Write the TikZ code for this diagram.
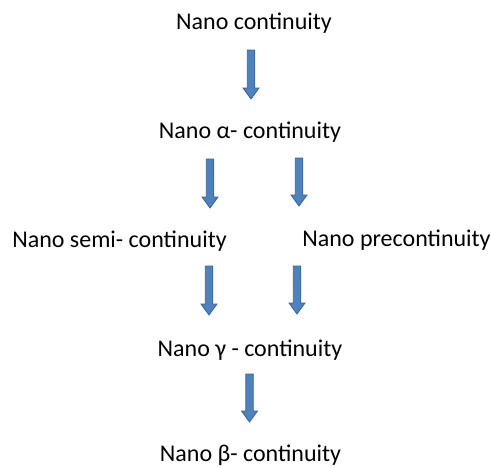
\documentclass[tikz,border=0pt]{standalone}
\usepackage{fontspec}
\setmainfont{Carlito}
\definecolor{arrfill}{HTML}{4F81BD}
\definecolor{arrline}{HTML}{3A6399}
\tikzset{
  lbl/.style={anchor=base, inner sep=0pt, font=\fontsize{24}{28}\selectfont, text=black},
  blockarr/.style={fill=arrfill, draw=arrline, line width=0.8pt, line join=miter}
}
\newcommand\blockarrow[2]{% #1 top coordinate name, #2 tip coordinate name
  \path (#1) coordinate (t) (#2) coordinate (b);
  \draw[blockarr] ($(t)+(-3.75,0)$) -- ($(b)+(-3.75,-11)$) -- ($(b)+(-8,-11)$) -- (b)
     -- ($(b)+(8,-11)$) -- ($(b)+(3.75,-11)$) -- ($(t)+(3.75,0)$) -- cycle;
}
\usetikzlibrary{calc}
\begin{document}
\begin{tikzpicture}[x=1pt,y=-1pt]
\useasboundingbox (0,0) rectangle (491,467);
\node[lbl] (c) at (254,29) {Nano continuity};
\node[lbl] (al) at (250,138) {Nano α- continuity};
\node[lbl] (se) at (119.5,247) {Nano semi- continuity};
\node[lbl] (pr) at (396.5,246) {Nano precontinuity};
\node[lbl] (ga) at (250,356) {Nano γ - continuity};
\node[lbl] (be) at (250.5,461) {Nano β- continuity};
\coordinate (a1t) at (251,50);  \coordinate (a1b) at (251,99);
\coordinate (a2t) at (210,159); \coordinate (a2b) at (210,208);
\coordinate (a3t) at (299,158); \coordinate (a3b) at (299,206);
\coordinate (a4t) at (209,266); \coordinate (a4b) at (209,315);
\coordinate (a5t) at (297,266); \coordinate (a5b) at (297,314);
\coordinate (a6t) at (249.5,374); \coordinate (a6b) at (249.5,422);
\blockarrow{a1t}{a1b}
\blockarrow{a2t}{a2b}
\blockarrow{a3t}{a3b}
\blockarrow{a4t}{a4b}
\blockarrow{a5t}{a5b}
\blockarrow{a6t}{a6b}
\end{tikzpicture}
\end{document}
